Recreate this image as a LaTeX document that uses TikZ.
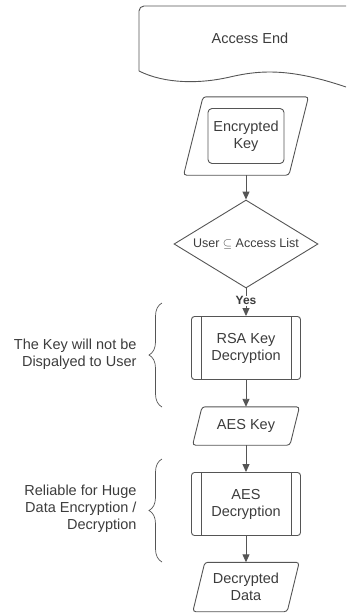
\documentclass[tikz,border=0pt]{standalone}
\usepackage{fontspec}
\setmainfont{Liberation Sans}
\usetikzlibrary{shapes.geometric, arrows.meta, decorations.pathreplacing}
\definecolor{linegray}{HTML}{555555}
\definecolor{textgray}{HTML}{3C3C3C}

\begin{document}
\begin{tikzpicture}[x=1pt, y=-1pt,
    every node/.style={text=textgray, font=\fontsize{14.5}{17}\selectfont},
    line/.style={draw=linegray, line width=0.9pt},
    io/.style={rectangle, align=center, inner sep=3pt},
    proc/.style={line, rectangle, rounded corners=3pt, minimum width=109pt,
        minimum height=63pt, align=center},
    decision/.style={line, diamond, aspect=1.64, minimum width=144pt, minimum height=88pt,
        inner sep=0pt, font=\fontsize{12.5}{15}\selectfont},
    arrow/.style={line, -{Triangle[length=8pt, width=7pt]}},
    bracel/.style={line, line width=0.7pt, decorate, decoration={brace, amplitude=13pt}},
    note/.style={align=right, anchor=east}]
    % 参数设置
    \def\cx{246} % 主流程的x位置

    % 画布大小
    \useasboundingbox (0,0) rectangle (346,613);

    % 访问端（文档形状）
    \draw[line, rounded corners=5pt] (346,6) -- (139,6) -- (139,71);
    \draw[line] (139,71) .. controls (165,84) and (200,84) .. (230,77)
        .. controls (260,70) and (290,68) .. (346,87);
    \node (access) at (250,38) {Access End};

    % 加密密钥
    \node[io, minimum width=105pt, minimum height=78pt] (enckey) at (\cx,136) {};
    \node[line, rounded corners=4pt, minimum width=76pt, minimum height=55pt,
        align=center] (enckeytxt) at (\cx,136) {Encrypted\\Key};

    % 判定
    \node[decision] (check) at (\cx,244) {User $\subseteq$ Access List};

    % 解密步骤
    \node[proc] (rsa) at (\cx,348) {RSA Key\\Decryption};
    \node[io, minimum width=97pt, minimum height=38pt] (aeskey) at (\cx,426) {AES Key};
    \node[proc] (aes) at (\cx,504) {AES\\Decryption};
    \node[io, minimum width=94pt, minimum height=49pt] (decdata) at (\cx,587) {Decrypted\\Data};

    % 平行四边形（输入输出）
    \foreach \n/\s in {enckey/19.5, aeskey/9.5, decdata/12} {
        \draw[line, rounded corners=3pt] ([xshift=-\s/2]\n.south west)
            -- ([xshift=\s/2]\n.north west) -- ([xshift=\s/2]\n.north east)
            -- ([xshift=-\s/2]\n.south east) -- cycle;
    }

    % 预定义过程的竖线
    \foreach \b in {rsa, aes} {
        \draw[line] ([xshift=10pt]\b.north west) -- ([xshift=10pt]\b.south west);
        \draw[line] ([xshift=-10pt]\b.north east) -- ([xshift=-10pt]\b.south east);
    }

    % 箭头
    \draw[arrow] (enckey.south) -- (check.north);
    \draw[arrow] (check.south) -- node[pos=0.45, fill=white, inner sep=1pt,
        font=\bfseries\fontsize{12}{14}\selectfont] (yes) {Yes} (rsa.north);
    \draw[arrow] (rsa.south) -- (aeskey.north);
    \draw[arrow] (aeskey.south) -- (aes.north);
    \draw[arrow] (aes.south) -- (decdata.north);

    % 括号和说明
    \coordinate (b1top) at (162,303);
    \coordinate (b1bot) at (162,407);
    \draw[bracel] (b1bot) -- (b1top);
    \node[note] (note1) at (140,354) {The Key will not be\\Dispalyed to User};

    \coordinate (b2top) at (162,459);
    \coordinate (b2bot) at (162,562);
    \draw[bracel] (b2bot) -- (b2top);
    \node[note] (note2) at (140,509) {Reliable for Huge\\Data Encryption /\\Decryption};
\end{tikzpicture}
\end{document}
